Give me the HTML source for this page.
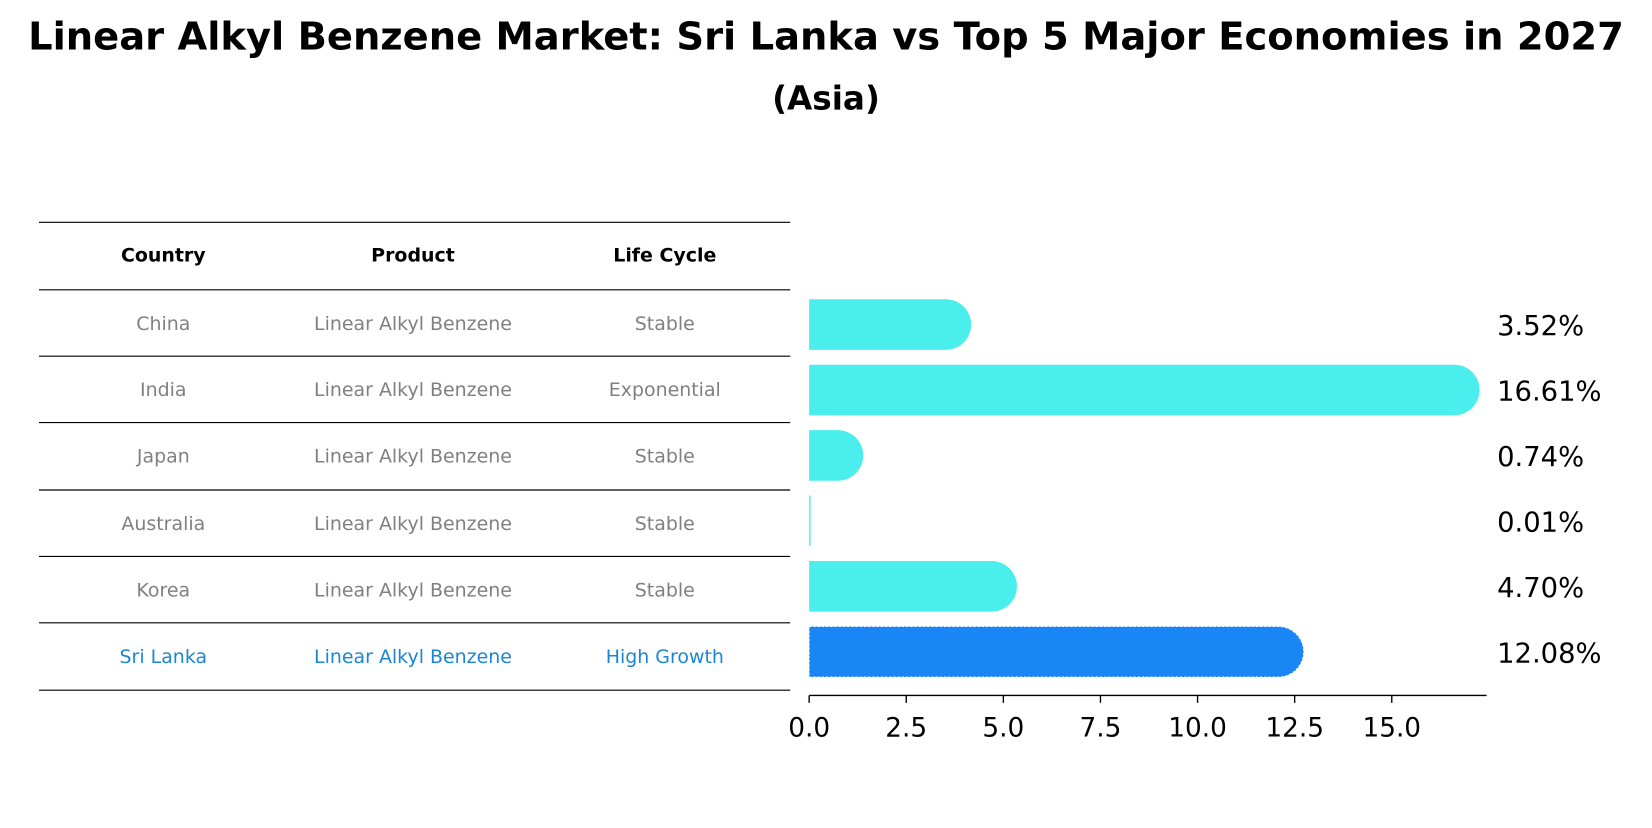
<!DOCTYPE html>
<html><head><meta charset="utf-8"><style>
body{margin:0;background:#fff;font-family:"Liberation Sans","DejaVu Sans",sans-serif;}
svg text{font-family:"DejaVu Sans","Liberation Sans",sans-serif;}
</style></head><body>
<svg id="c" width="1652" height="823" viewBox="0 0 1568 781" preserveAspectRatio="none" xmlns="http://www.w3.org/2000/svg">
<text x="784" y="47" text-anchor="middle" font-size="36.5" font-weight="bold">Linear Alkyl Benzene Market: Sri Lanka vs Top 5 Major Economies in 2027</text>
<text x="784" y="104" text-anchor="middle" font-size="31" font-weight="bold">(Asia)</text>
<g id="tbl"></g>
<g id="bars"></g>
<g id="axis"></g>
</svg>
<script>
const countries=["China","India","Japan","Australia","Korea","Sri Lanka"];
const products=["Linear Alkyl Benzene","Linear Alkyl Benzene","Linear Alkyl Benzene","Linear Alkyl Benzene","Linear Alkyl Benzene","Linear Alkyl Benzene"];
const lifeCycles=["Stable","Exponential","Stable","Stable","Stable","High Growth"];
const values=[3.52,16.61,0.74,0.01,4.70,12.08];
const tickValues=[0,2.5,5,7.5,10,12.5,15];
const NS="http://www.w3.org/2000/svg";
function mk(tag,attrs,parent,txt){const e=document.createElementNS(NS,tag);for(const k in attrs)e.setAttribute(k,attrs[k]);if(txt!==undefined)e.textContent=txt;parent.appendChild(e);return e;}
const x0=768, pxPer=553/15;
const X=v=>x0+v*pxPer;
const rowTop=[275,338,401,465,528,591];
const Y=i=>308+i*62.1;
const tbl=document.getElementById('tbl'), bars=document.getElementById('bars'), axis=document.getElementById('axis');
const lines=[211,275,338,401,465,528,591,655];
lines.forEach(y=>{const l=mk('line',{x1:37,x2:750,y1:y,y2:y,stroke:'#000','stroke-width':1.1},tbl);

});
const colX=[155,392,631];
["Country","Product","Life Cycle"].forEach((h,j)=>{const t=mk('text',{x:colX[j],y:248,'text-anchor':'middle','font-size':18,'font-weight':'bold'},tbl,h);

});
countries.forEach((c,i)=>{
 const col=i===countries.length-1?'#1a86d6':'#808080';
 const cy=rowTop[i]+38;
 [c,products[i],lifeCycles[i]].forEach((s,j)=>{const t=mk('text',{x:colX[j],y:cy,'text-anchor':'middle','font-size':18,fill:col},tbl,s);
 
 });
 const yc=Y(i), h=48, r=24;
 const hl=i===countries.length-1;
 const fill=hl?'#1a86f5':'#4aeeec';
 const xe=X(values[i]);
 let p;
 if(values[i]<0.1){p=mk('rect',{x:x0,y:yc-h/2,width:Math.max(1,xe-x0+1),height:h,fill:fill},bars);}
 else{p=mk('path',{d:`M${x0},${yc-h/2} H${xe} A${r},${r} 0 0 1 ${xe},${yc+h/2} H${x0} Z`,fill:fill},bars);}
 if(hl){p.setAttribute('stroke','#ffffff');p.setAttribute('stroke-dasharray','2,2');p.setAttribute('stroke-width','1');}
 
 
 const lb=mk('text',{x:1421,y:yc+10,'font-size':26},bars,values[i].toFixed(2)+'%');
 
 
});
mk('line',{x1:x0,x2:1411,y1:660,y2:660,stroke:'#000','stroke-width':1.3},axis);
tickValues.forEach(v=>{
 const tk=mk('line',{x1:X(v),x2:X(v),y1:660,y2:667,stroke:'#000','stroke-width':1.3},axis);
 
 
 const t=mk('text',{x:X(v),y:699,'text-anchor':'middle','font-size':25},axis,v.toFixed(1));
 
 
});
</script>
</body></html>
